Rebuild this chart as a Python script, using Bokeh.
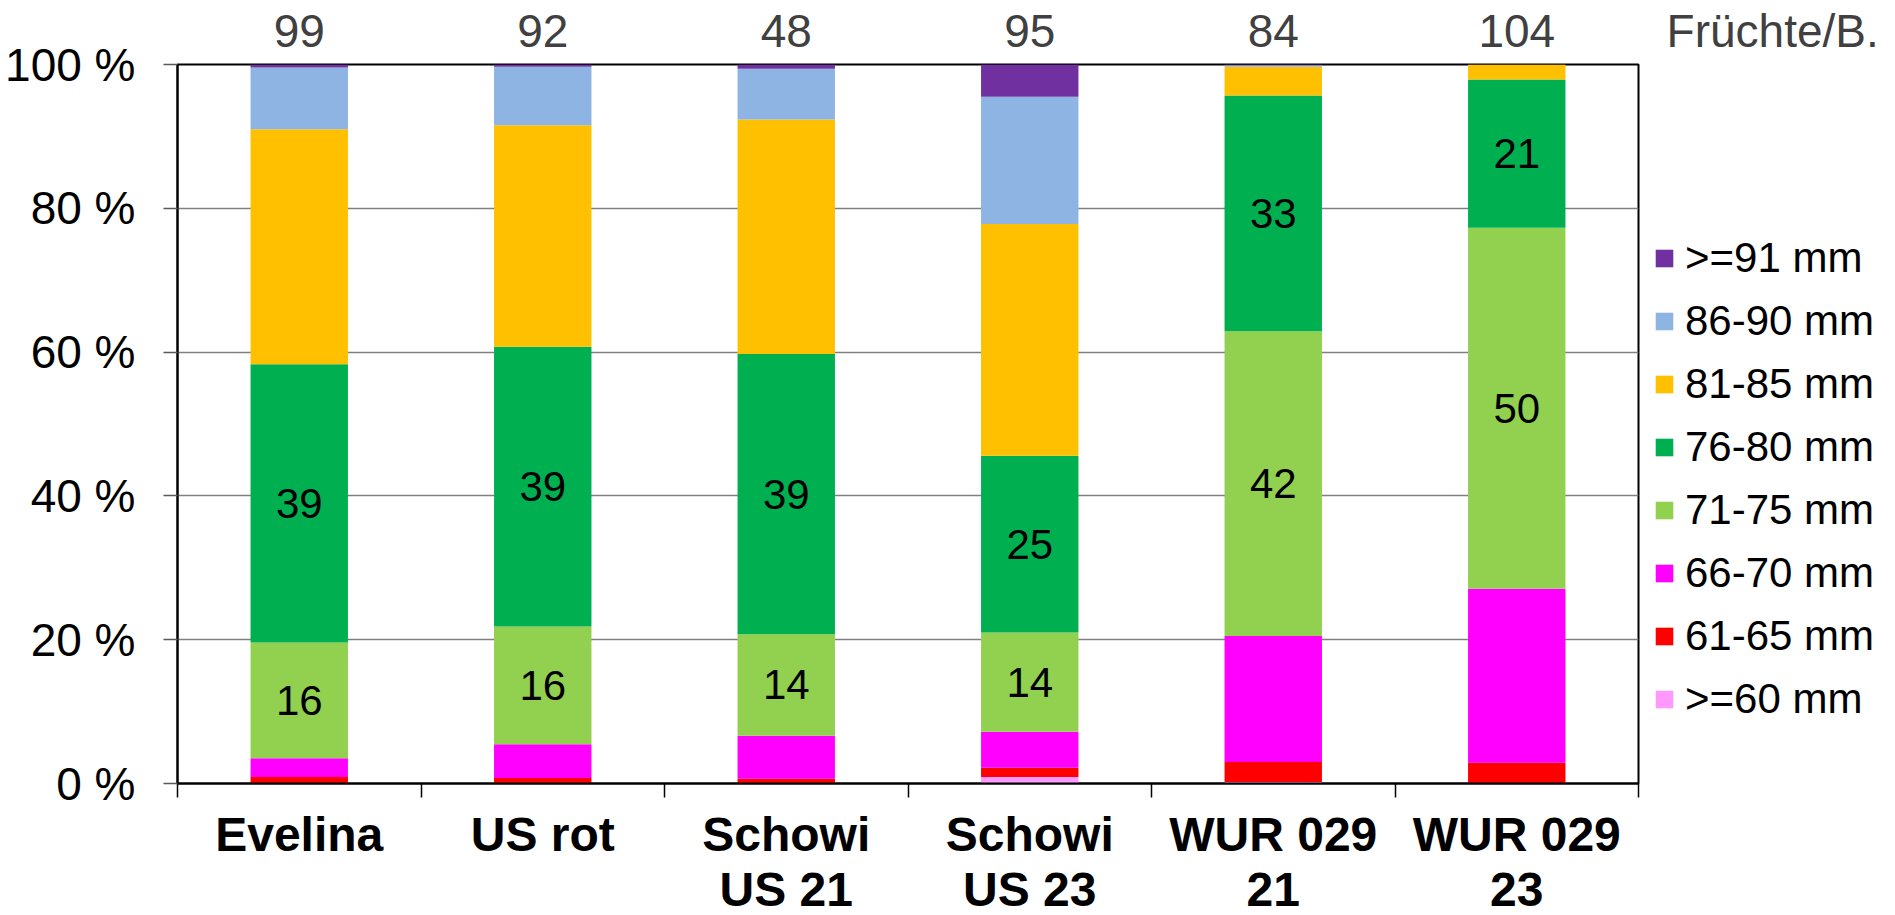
import numpy as np
from bokeh.plotting import figure
from bokeh.models import (Range1d, LinearAxis, FixedTicker, PrintfTickFormatter,
                          ColumnDataSource, Legend, LegendItem)
from bokeh.core.properties import value
from bokeh.embed import file_html
from bokeh.resources import INLINE

# ---------------- data ----------------
categories = ["Evelina", "US rot", "Schowi\nUS 21", "Schowi\nUS 23", "WUR 029\n21", "WUR 029\n23"]
fruit_counts = [99, 92, 48, 95, 84, 104]
count_title = "Früchte/B."
size_classes = [">=60 mm", "61-65 mm", "66-70 mm", "71-75 mm", "76-80 mm", "81-85 mm", "86-90 mm", ">=91 mm"]
class_colors = ["#FF99FF", "#FF0000", "#FF00FF", "#92D050", "#00B050", "#FFC000", "#8EB4E3", "#7030A0"]
share_ge60 = [0.0, 0.0, 0.0, 0.9, 0.2, 0.0]
share_61_65 = [0.9, 0.75, 0.65, 1.3, 2.8, 2.9]
share_66_70 = [2.6, 4.7, 6.0, 5.0, 17.5, 24.2]
share_71_75 = [16.1, 16.4, 14.1, 13.8, 42.4, 50.2]
share_76_80 = [38.7, 38.9, 39.0, 24.6, 32.8, 20.6]
share_81_85 = [32.7, 30.8, 32.6, 32.2, 4.0, 2.1]
share_86_90 = [8.6, 8.15, 7.05, 17.7, 0.2, 0.0]
share_ge91 = [0.4, 0.3, 0.6, 4.5, 0.1, 0.0]
y_ticks = [0, 20, 40, 60, 80, 100]

FONT = "Liberation Sans"

series = [share_ge60, share_61_65, share_66_70, share_71_75,
          share_76_80, share_81_85, share_86_90, share_ge91]
keys = ["s%d" % i for i in range(len(series))]
n = len(categories)
xc = np.arange(n) + 0.5
bounds = list(range(n + 1))

data = {"x": xc}
for k, s in zip(keys, series):
    data[k] = s
source = ColumnDataSource(data)

p = figure(frame_width=1461, frame_height=719,
           x_range=Range1d(0, n), y_range=Range1d(0, 100),
           x_axis_location=None, y_axis_location=None,
           output_backend="svg", toolbar_location=None,
           min_border_left=177, min_border_top=64, min_border_bottom=120,
           min_border_right=20, background_fill_color="white",
           border_fill_color="white")

renderers = p.vbar_stack(keys, x="x", width=0.4, color=class_colors,
                         line_alpha=0, source=source)

# y axis
yax = LinearAxis(ticker=FixedTicker(ticks=y_ticks),
                 formatter=PrintfTickFormatter(format="%d %%"))
yax.major_label_text_font = FONT
yax.major_label_text_font_size = "46px"
yax.major_label_text_color = "black"
yax.major_label_standoff = 28
yax.major_tick_in = 0
yax.major_tick_out = 14
yax.major_tick_line_color = "#595959"
yax.major_tick_line_width = 1.5
yax.minor_tick_line_color = None
yax.axis_line_color = "black"
yax.axis_line_width = 2
p.add_layout(yax, "left")

# x axis: labels at bar centres, tick marks at category boundaries
xax = LinearAxis(ticker=FixedTicker(ticks=list(xc), minor_ticks=bounds))
xax.major_label_overrides = {float(x): c for x, c in zip(xc, categories)}
xax.major_label_text_font = FONT
xax.major_label_text_font_size = "48px"
xax.major_label_text_font_style = "bold"
xax.major_label_text_color = "black"
xax.major_label_text_line_height = 1.04
xax.major_label_standoff = 10
xax.major_tick_in = 0
xax.major_tick_out = 0
xax.major_tick_line_color = None
xax.minor_tick_in = 0
xax.minor_tick_out = 14
xax.minor_tick_line_color = "black"
xax.minor_tick_line_width = 1.5
xax.axis_line_color = "black"
xax.axis_line_width = 2
p.add_layout(xax, "below")

# counts above the bars (+ the unit caption at the right end)
pad = "\u00a0" * 21
top_ticks = list(xc) + [float(n)]
top_labels = [str(c) for c in fruit_counts] + [pad + count_title]
tax = LinearAxis(ticker=FixedTicker(ticks=top_ticks, minor_ticks=[]))
tax.major_label_overrides = {float(t): s for t, s in zip(top_ticks, top_labels)}
tax.major_label_text_font = FONT
tax.major_label_text_font_size = "46px"
tax.major_label_text_color = "#404040"
tax.major_label_standoff = 8
tax.major_tick_in = 0
tax.major_tick_out = 0
tax.major_tick_line_color = None
tax.minor_tick_line_color = None
tax.axis_line_color = None
p.add_layout(tax, "above")

p.ygrid.ticker = FixedTicker(ticks=y_ticks)
p.ygrid.grid_line_color = "#808080"
p.ygrid.grid_line_width = 1.4
p.xgrid.grid_line_color = None
p.outline_line_color = "black"
p.outline_line_width = 2
p.outline_line_alpha = 1

# value labels on 71-75 and 76-80
base = np.array(share_ge60) + np.array(share_61_65) + np.array(share_66_70)
v1 = np.array(share_71_75)
v2 = np.array(share_76_80)
lab_src = ColumnDataSource({
    "x": np.concatenate([xc, xc]),
    "y": np.concatenate([base + v1 / 2, base + v1 + v2 / 2]),
    "t": [str(int(round(v))) for v in np.concatenate([v1, v2])],
})
p.text(x="x", y="y", text="t", source=lab_src, text_align="center",
       text_baseline="middle", text_font=value(FONT), text_font_size="42px",
       text_color="black")

# legend
items = [LegendItem(label=lab, renderers=[r]) for lab, r in zip(size_classes, renderers)][::-1]
legend = Legend(items=items, location=(15, 60))
legend.label_text_font = FONT
legend.label_text_font_size = "42px"
legend.label_text_color = "black"
legend.glyph_width = 22
legend.glyph_height = 22
legend.label_standoff = 10
legend.label_height = 48
legend.spacing = 15
legend.padding = 0
legend.margin = 0
legend.border_line_color = None
legend.background_fill_alpha = 0
p.add_layout(legend, "right")

open("out.html", "w").write(file_html(p, INLINE))
